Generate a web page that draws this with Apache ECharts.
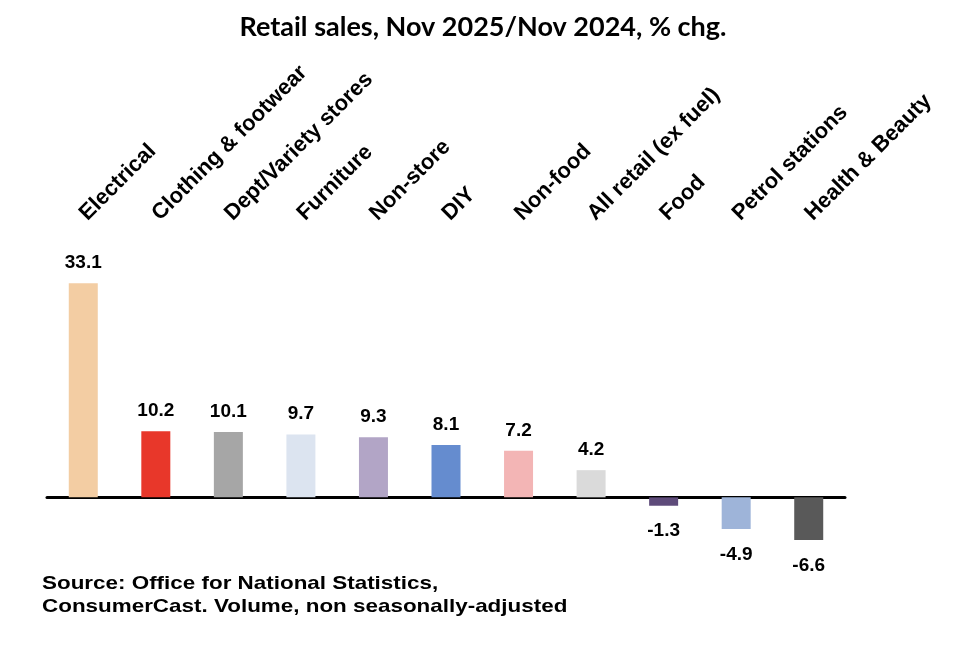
<!DOCTYPE html>
<html>

<head>
    <title>Retail sales</title>
    <script src="https://cdn.jsdelivr.net/npm/echarts@6/dist/echarts.min.js"></script>
</head>

<body style="margin:0;background:#fff;">
    <div id="chart" style="width: 966px; height: 656px;"></div>

    <script>
        var chart = echarts.init(document.getElementById('chart'));

        // categories and values
        var categories = ['Electrical', 'Clothing & footwear', 'Dept/Variety stores', 'Furniture', 'Non-store', 'DIY',
            'Non-food', 'All retail (ex fuel)', 'Food', 'Petrol stations', 'Health & Beauty'];
        var values = [33.1, 10.2, 10.1, 9.7, 9.3, 8.1, 7.2, 4.2, -1.3, -4.9, -6.6];
        var barColors = ['#F3CDA3', '#E8372A', '#A6A6A6', '#DCE4F0', '#B2A5C6', '#658CCF',
            '#F3B5B5', '#DADADA', '#5E4B7A', '#9EB4D9', '#595959'];

        var options = {
            animation: false,
            title: {
                text: 'Retail sales, Nov 2025/Nov 2024, % chg.',
                left: 'center',
                top: 2,
                textStyle: { fontFamily: 'Lato', fontWeight: 'bold', fontSize: 27, color: '#000' }
            },
            grid: { left: 47, right: 121, top: 271, height: 291 },
            xAxis: [
                {
                    type: 'category',
                    data: categories,
                    axisLine: { onZero: true, lineStyle: { color: '#000', width: 3 } },
                    axisTick: { show: false },
                    axisLabel: { show: false }
                },
                {
                    type: 'category',
                    position: 'top',
                    data: categories,
                    axisLine: { show: false },
                    axisTick: { show: false },
                    axisLabel: {
                        rotate: -45, margin: 54, interval: 0,
                        fontFamily: 'Liberation Sans', fontWeight: 'bold', fontSize: 22, color: '#000'
                    }
                }
            ],
            yAxis: {
                type: 'value',
                min: -10,
                max: 35,
                show: false,
                splitLine: { show: false }
            },
            series: [
                {
                    type: 'bar',
                    barWidth: 29,
                    data: values.map(function (v, i) {
                        return {
                            value: v,
                            itemStyle: { color: barColors[i] },
                            label: { position: v < 0 ? 'bottom' : 'top', distance: v < 0 ? 9 : 4 }
                        };
                    }),
                    label: {
                        show: true,
                        fontFamily: 'Liberation Sans', fontWeight: 'bold', fontSize: 19, color: '#000'
                    }
                }
            ],
            graphic: [
                {
                    type: 'text',
                    left: 42,
                    top: 567,
                    scaleX: 1.18,
                    style: {
                        text: 'Source: Office for National Statistics,\nConsumerCast. Volume, non seasonally-adjusted',
                        font: 'bold 19px "Liberation Sans"',
                        lineHeight: 23,
                        fill: '#000'
                    }
                }
            ]
        };

        chart.setOption(options);
    </script>
</body>

</html>
